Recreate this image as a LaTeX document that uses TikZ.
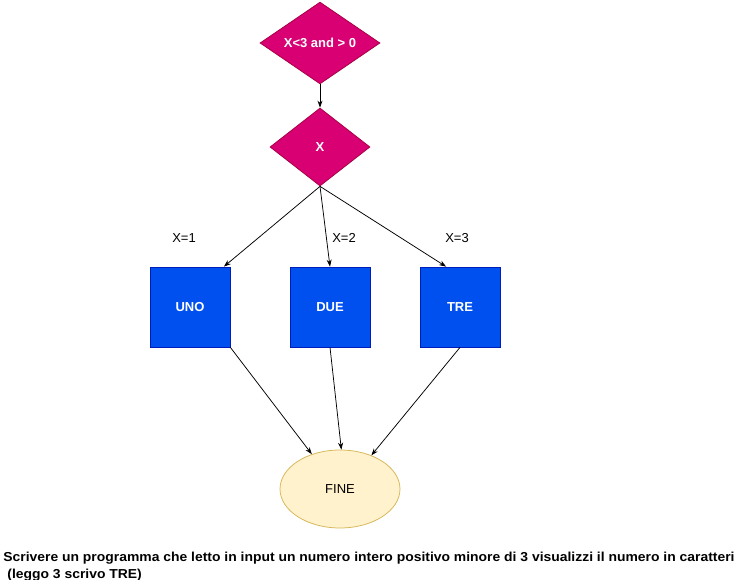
\documentclass[tikz,border=0pt]{standalone}
\usepackage{fontspec}
\setmainfont{Liberation Sans}
\newfontfamily\notefont[FakeStretch=1.07]{Liberation Sans}
\usepackage{tikz}
\usetikzlibrary{shapes.geometric}
\usetikzlibrary{arrows.meta}
\definecolor{pinkfill}{HTML}{D80073}
\definecolor{pinkline}{HTML}{A50040}
\definecolor{bluefill}{HTML}{0050EF}
\definecolor{blueline}{HTML}{001DBC}
\definecolor{endfill}{HTML}{FFF2CC}
\definecolor{endline}{HTML}{D6B656}

\begin{document}
\begin{tikzpicture}[x=1pt, y=-1pt, ->, >={Stealth[length=7pt,width=5pt]}, line width=0.75pt,
    font=\fontsize{13}{15}\selectfont,
    cond/.style={diamond, draw=pinkline, fill=pinkfill, text=white, font=\fontsize{13}{15}\selectfont\bfseries, inner sep=0pt},
    caso/.style={rectangle, draw=blueline, fill=bluefill, text=white, font=\fontsize{13}{15}\selectfont\bfseries, minimum width=80pt, minimum height=80pt, inner sep=0pt},
    fine/.style={ellipse, draw=endline, fill=endfill, minimum width=120pt, minimum height=78pt, inner sep=0pt},
    riga/.style={anchor=base west, inner sep=0pt, font=\fontsize{13}{17}\notefont\bfseries}]
    \useasboundingbox (0,0) rectangle (739,580);
    \node(test)[cond, minimum width=120pt, minimum height=80pt] at (320,43) {X<3 and > 0};
    \node(x)[cond, minimum width=100pt, minimum height=78pt] at (320,147) {X};
    \node(uno)[caso] at (190,307) {UNO};
    \node(due)[caso] at (330,307) {DUE};
    \node(tre)[caso] at (460,307) {TRE};
    \node(end)[fine] at (340,489) {FINE};
    % etichette dei casi
    \node(l1) at (184,238) {X=1};
    \node(l2) at (344,238) {X=2};
    \node(l3) at (457,238) {X=3};
    \path(test) edge (x);
    \path(x.south) edge (uno.50);
    \path(x.south) edge (due.north);
    \path(x.south) edge (tre.109);
    \path(uno.south east) edge (end.129);
    \path(due.south) edge (end.88);
    \path(tre.south) edge (end.47);
    % testo dell'esercizio
    \node(riga1)[riga] at (3,561) {Scrivere un programma che letto in input un numero intero positivo minore di 3 visualizzi il numero in caratteri};
    \node(riga2)[riga] at (7,578) {(leggo 3 scrivo TRE)};
\end{tikzpicture}
\end{document}
